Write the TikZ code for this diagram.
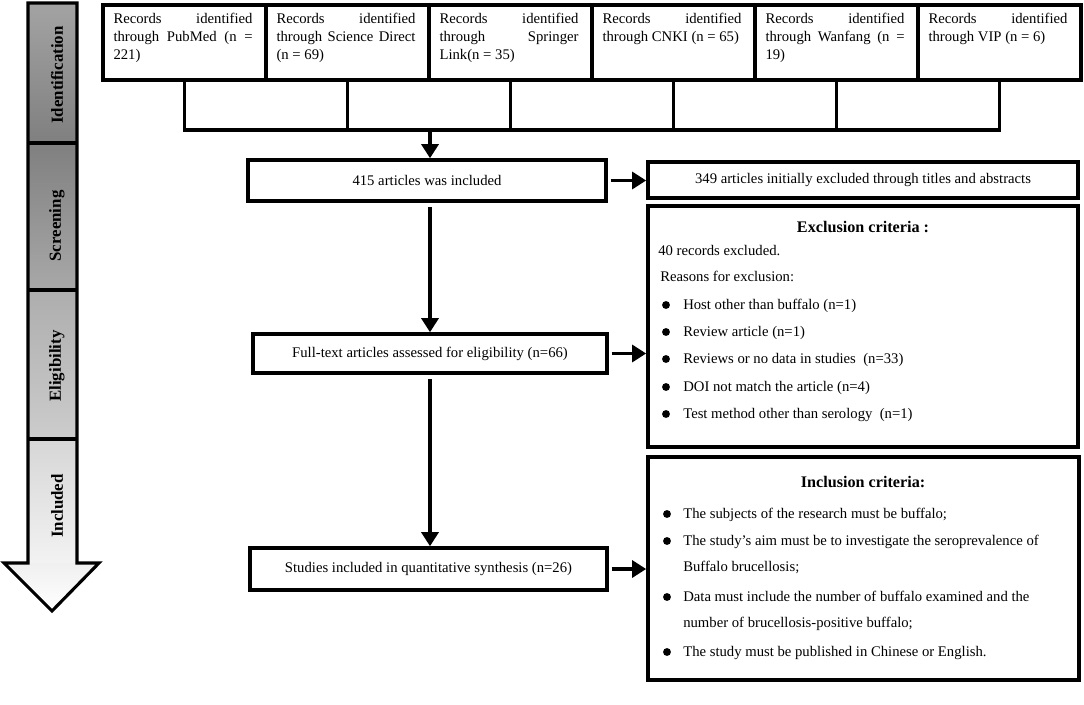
\documentclass[tikz,border=0pt]{standalone}
\usepackage{fontspec}
\setmainfont{Liberation Serif}
\usetikzlibrary{arrows.meta,fit,positioning}

\tikzset{
  box/.style={draw, line width=2.5pt, inner sep=0pt},
  srctext/.style={text width=3.475cm, align=justify, inner sep=0pt, anchor=north west},
  link/.style={line width=2.8pt},
  flow/.style={line width=2.8pt, -{Triangle[width=12pt,length=10pt]}},
  phase/.style={rotate=90, font=\fontsize{12}{14}\selectfont\bfseries},
  crit/.style={anchor=base west, inner sep=0pt},
  crithead/.style={anchor=base, inner sep=0pt, font=\fontsize{11.5}{14}\selectfont\bfseries},
}

\begin{document}
\begin{tikzpicture}[x=0.025cm, y=-0.025cm, font=\fontsize{10.45}{12.8}\selectfont]
  \useasboundingbox (0,0) rectangle (1084,704);

  % stage arrow
  \shade[top color=black!36, bottom color=black!50] (28,3) rectangle (77,143);
  \shade[top color=black!50, bottom color=black!34] (28,143) rectangle (77,290);
  \shade[top color=black!32, bottom color=black!20] (28,290) rectangle (77,439);
  \shade[top color=black!16, bottom color=black!5] (28,439) rectangle (77,563);
  \shade[top color=black!6, bottom color=white] (4,563) -- (99,563) -- (52,611) -- cycle;
  \draw[line width=2.2pt] (28,3) -- (77,3) -- (77,563) -- (99,563) -- (52,611)
      -- (4,563) -- (28,563) -- cycle;
  \foreach \y in {143,290,439}
    \draw[line width=2.2pt] (28,\y) -- (77,\y);
  \node[phase] (ident) at (57,75) {Identification};
  \node[phase] (scrn) at (57,226) {Screening};
  \node[phase] (elig) at (57,366) {Eligibility};
  \node[phase] (incd) at (57,506) {Included};

  % databases
  \foreach \txt [count=\i] in {
      {Records identified\linebreak through PubMed (n =\linebreak 221)},
      {Records identified\linebreak through Science Direct\linebreak (n = 69)},
      {Records identified\linebreak through Springer\linebreak Link(n = 35)},
      {Records identified\linebreak through CNKI (n = 65)},
      {Records identified\linebreak through Wanfang (n =\linebreak 19)},
      {Records identified\linebreak through VIP (n = 6)}} {
    \node[box, fit={({103+163*(\i-1)},5) ({266+163*(\i-1)},80)}] (src\i) {};
    \node[srctext] (srctxt\i) at ([shift={(12,10)}]src\i.north west) {\txt};
  }

  % flow boxes
  \node[box, minimum width=8.95cm, minimum height=1.025cm] (pool) at (427,180.5) {415 articles was included};
  \node[box, minimum width=10.75cm, minimum height=0.9cm] (screen) at (863,180) {349 articles initially excluded through titles and abstracts};
  \node[box, minimum width=10.75cm, minimum height=6.025cm] (excl) at (863,326.5) {};
  \node[box, minimum width=8.85cm, minimum height=0.975cm] (full) at (430,353.5) {Full-text articles assessed for eligibility (n=66)};
  \node[box, minimum width=10.775cm, minimum height=5.575cm] (incl) at (863.5,568.5) {};
  \node[box, minimum width=8.925cm, minimum height=1.05cm] (final) at (428.5,569) {Studies included in quantitative synthesis (n=26)};

  % connectors
  \coordinate (merge) at (430,130);
  \draw[link] (src1.south) -- (src1.south |- merge) -- (src6.south |- merge) -- (src6.south);
  \foreach \i in {2,...,5}
    \draw[link] (src\i.south) -- (src\i.south |- merge);
  \draw[flow] (merge) -- (merge |- pool.north);
  \draw[flow, shorten <=3pt] (merge |- pool.south) -- (merge |- full.north);
  \draw[flow, shorten <=3pt] (merge |- full.south) -- (merge |- final.north);
  \draw[flow, shorten <=2pt] (pool.east) -- (screen.west |- pool.east);
  \draw[flow, shorten <=2pt] (full.east) -- (excl.west |- full.east);
  \draw[flow, shorten <=2pt] (final.east) -- (incl.west |- final.east);

  % exclusion criteria
  \node[crithead] (exclhead) at (863,232) {Exclusion criteria :};
  \node[crit] (exclnum) at (658,255) {40 records excluded.};
  \node[crit] (exclwhy) at (660,281) {Reasons for exclusion:};
  \foreach \y/\txt [count=\i] in {309/{Host other than buffalo (n=1)},
      336/{Review article (n=1)},
      363/{Reviews or no data in studies \ (n=33)},
      391/{DOI not match the article (n=4)},
      418/{Test method other than serology \ (n=1)}} {
    \fill ({666},{\y-4}) circle (2.8pt);
    \node[crit] (reason\i) at (683,\y) {\txt};
  }

  % inclusion criteria
  \node[crithead] (inclhead) at (863,487) {Inclusion criteria:};
  \foreach \y/\b/\txt [count=\i] in {518/1/{The subjects of the research must be buffalo;},
      545/1/{The study’s aim must be to investigate the seroprevalence of},
      571/0/{Buffalo brucellosis;},
      601/1/{Data must include the number of buffalo examined and the},
      627/0/{number of brucellosis-positive buffalo;},
      656/1/{The study must be published in Chinese or English.}} {
    \ifnum\b=1 \fill ({667},{\y-4}) circle (2.8pt); \fi
    \node[crit] (rule\i) at (683,\y) {\txt};
  }
\end{tikzpicture}
\end{document}
